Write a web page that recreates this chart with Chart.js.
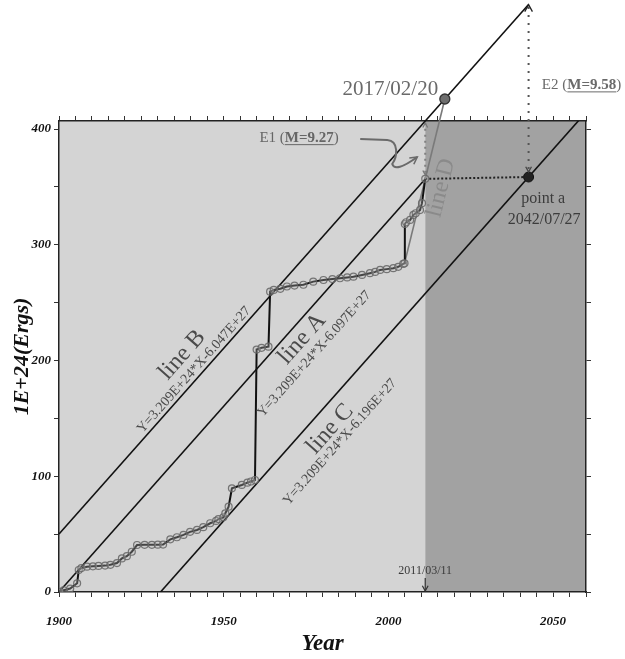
<!DOCTYPE html>
<html>
<head>
<meta charset="utf-8">
<script src="https://cdn.jsdelivr.net/npm/chart.js@4.4.0/dist/chart.umd.min.js"></script>
<style>
  html, body { margin: 0; padding: 0; background: #fff; }
</style>
</head>
<body>
<canvas id="myChart" width="625" height="659"></canvas>
<script>
// cumulative released energy, in units of 1E+24 ergs
var years = [1900.1, 1901.4, 1903.4, 1905.5, 1906.0, 1906.8, 1908.5, 1910.3, 1912.0, 1914.0, 1915.6, 1917.6, 1919.1, 1920.6, 1922.1, 1923.7, 1926.0, 1928.2, 1930.0, 1931.6, 1933.8, 1935.8, 1937.8, 1939.8, 1941.9, 1943.8, 1945.9, 1947.7, 1948.4, 1949.9, 1950.5, 1951.5, 1952.5, 1955.5, 1957.2, 1958.3, 1959.5, 1960.0, 1961.5, 1963.6, 1964.1, 1965.2, 1967.2, 1969.2, 1971.5, 1974.2, 1977.2, 1980.3, 1983.0, 1985.3, 1987.5, 1989.4, 1992.0, 1994.4, 1996.0, 1997.5, 1999.5, 2001.5, 2003.0, 2004.5, 2004.9, 2005.0, 2005.4, 2006.6, 2007.6, 2008.3, 2009.6, 2010.2, 2011.19];
var energy = [0, 1.5, 3, 7.5, 19, 20.7, 21.9, 22.2, 22.5, 22.8, 23.5, 25, 29, 31, 34.8, 40.6, 40.8, 40.8, 40.9, 41, 45.5, 47.3, 49.3, 52, 53.6, 56, 59.4, 61.4, 63, 64.5, 68, 73.7, 89.6, 92.5, 94.5, 95.5, 96.8, 209.5, 211, 212, 259.5, 261, 262, 264, 264.8, 265.5, 268.2, 269.6, 270.4, 271.1, 271.8, 272.5, 274, 275.5, 276.6, 278.3, 279, 279.8, 281, 283.5, 284, 318, 319.5, 321.5, 325.8, 327.3, 330, 336, 357];

var xTickLabels = [1900, 1950, 2000, 2050];
var yTickLabels = [0, 100, 200, 300, 400];

// Y = 3.209E+24*X - c, scaled to 1E+24
var slope = 3.209;
var interceptB = -6047;
var interceptA = -6097;
var interceptC = -6196;

var quakeYear = 2011.19;     // 2011/03/11
var forecastYear = 2017.14;  // 2017/02/20
var pointAYear = 2042.57;    // 2042/07/27
var lineDStartYear = 2004.9;
var lineDStartValue = 284;

function lineVal(c, yr) { return slope * yr + c; }

var serif = "'Liberation Serif', 'Times New Roman', serif";
var quakeValue = energy[energy.length - 1];
var lineCZero = -interceptC / slope;

var shading = {
    id: "shading",
    beforeDraw: function (chart) {
        var ctx = chart.ctx, a = chart.chartArea;
        var split = chart.scales.x.getPixelForValue(quakeYear);
        ctx.save();
        ctx.fillStyle = "#d4d4d4";
        ctx.fillRect(a.left, a.top, split - a.left, a.bottom - a.top);
        ctx.fillStyle = "#a2a2a2";
        ctx.fillRect(split, a.top, a.right - split, a.bottom - a.top);
        ctx.restore();
    }
};

function arrowHead(ctx, x, y, angle, size) {
    ctx.beginPath();
    ctx.moveTo(x - size * Math.cos(angle - 0.5), y - size * Math.sin(angle - 0.5));
    ctx.lineTo(x, y);
    ctx.lineTo(x - size * Math.cos(angle + 0.5), y - size * Math.sin(angle + 0.5));
    ctx.stroke();
}

function textAt(ctx, str, x, y, angle, font, color) {
    ctx.save();
    ctx.translate(x, y);
    ctx.rotate(angle);
    ctx.font = font;
    ctx.fillStyle = color;
    ctx.textAlign = "center";
    ctx.textBaseline = "middle";
    ctx.fillText(str, 0, 0);
    ctx.restore();
}

// "E1 (M=9.27)" style label, magnitude bold and underlined
function magLabel(ctx, head, mag, left, y, size, color) {
    ctx.save();
    ctx.fillStyle = color;
    ctx.strokeStyle = color;
    ctx.textBaseline = "middle";
    ctx.textAlign = "left";
    ctx.font = size + "px " + serif;
    ctx.fillText(head + " (", left, y);
    var x = left + ctx.measureText(head + " (").width;
    ctx.font = "bold " + size + "px " + serif;
    ctx.fillText(mag, x, y);
    var w = ctx.measureText(mag).width;
    ctx.lineWidth = 1;
    ctx.beginPath();
    ctx.moveTo(x, y + size * 0.45);
    ctx.lineTo(x + w, y + size * 0.45);
    ctx.stroke();
    ctx.font = size + "px " + serif;
    ctx.fillText(")", x + w, y);
    ctx.restore();
}

var notes = {
    id: "notes",
    afterDraw: function (chart) {
        var ctx = chart.ctx, xs = chart.scales.x, ys = chart.scales.y, a = chart.chartArea;
        var px = function (v) { return xs.getPixelForValue(v); };
        var py = function (v) { return ys.getPixelForValue(v); };
        var ang = Math.atan2(py(lineVal(0, 2000)) - py(lineVal(0, 1950)), px(2000) - px(1950));
        var tc = "#4a4a4a";

        textAt(ctx, "line B", px(1937.4), py(204.8), ang, "24px " + serif, tc);
        textAt(ctx, "Y=3.209E+24*X-6.047E+27", px(1941.0), py(191.9), ang, "14px " + serif, tc);
        textAt(ctx, "line A", px(1973.8), py(218.7), ang, "24px " + serif, tc);
        textAt(ctx, "Y=3.209E+24*X-6.097E+27", px(1977.5), py(205.7), ang, "14px " + serif, tc);
        textAt(ctx, "line C", px(1982.3), py(140.8), ang, "24px " + serif, tc);
        textAt(ctx, "Y=3.209E+24*X-6.196E+27", px(1985.3), py(129.6), ang, "14px " + serif, tc);

        var fy = lineVal(interceptB, forecastYear);
        var angD = Math.atan2(py(fy) - py(lineDStartValue), px(forecastYear) - px(lineDStartYear));
        textAt(ctx, "line D", px(2016.0), py(349.2), angD, "24px " + serif, "#8a8a8a");

        textAt(ctx, "2017/02/20", px(2000.6), py(433.9), 0, "21px " + serif, "#6a6a6a");
        textAt(ctx, "point a", px(2047.0), py(339.7), 0, "16px " + serif, "#3c3c3c");
        textAt(ctx, "2042/07/27", px(2047.3), py(321.5), 0, "16px " + serif, "#3c3c3c");
        magLabel(ctx, "E1", "M=9.27", px(1973.3) - 41, py(392.4), 15, "#666");
        magLabel(ctx, "E2", "M=9.58", px(2046.6), py(438), 15, "#6a6a6a");

        // forecast point sits above the plot area, so draw its marker here
        var fp = chart.getDatasetMeta(1).data[0];
        ctx.save();
        ctx.fillStyle = "#6e6e6e";
        ctx.strokeStyle = "#333";
        ctx.lineWidth = 1.3;
        ctx.beginPath();
        ctx.arc(fp.x, fp.y, 5, 0, Math.PI * 2);
        ctx.fill();
        ctx.stroke();
        ctx.restore();

        ctx.save();
        ctx.lineWidth = 1.3;
        // top of E2 / end of line B
        var ex = px(pointAYear), eTop = py(lineVal(interceptB, pointAYear));
        ctx.strokeStyle = "#222";
        arrowHead(ctx, ex, eTop, -Math.PI / 2, 8);
        ctx.strokeStyle = "#444";
        arrowHead(ctx, ex, py(lineVal(interceptC, pointAYear)) - 5, Math.PI / 2, 6);

        // E1 between the 2011 value and line B
        var qx = px(quakeYear);
        ctx.strokeStyle = "#777";
        arrowHead(ctx, qx, py(lineVal(interceptB, quakeYear)) + 2, -Math.PI / 2, 5);
        arrowHead(ctx, qx, py(quakeValue) - 4, Math.PI / 2, 5);

        // curved pointer from the E1 label
        ctx.strokeStyle = "#6a6a6a";
        ctx.lineWidth = 2;
        ctx.beginPath();
        ctx.moveTo(qx - 65, a.top + 18);
        ctx.lineTo(qx - 38, a.top + 19);
        ctx.bezierCurveTo(qx - 26, a.top + 20, qx - 28, a.top + 36, qx - 33, a.top + 43);
        ctx.quadraticCurveTo(qx - 30, a.top + 52, qx - 8, a.top + 36);
        ctx.stroke();
        ctx.lineWidth = 1.6;
        arrowHead(ctx, qx - 8, a.top + 36, Math.atan2(-16, 22), 8);

        // 2011/03/11 marker on the time axis
        textAt(ctx, "2011/03/11", qx, a.bottom - 21, 0, "12px " + serif, "#3a3a3a");
        ctx.strokeStyle = "#333";
        ctx.lineWidth = 1.2;
        ctx.beginPath();
        ctx.moveTo(qx, a.bottom - 14);
        ctx.lineTo(qx, a.bottom - 1);
        ctx.stroke();
        arrowHead(ctx, qx, a.bottom - 1, Math.PI / 2, 6);
        ctx.restore();
    }
};

var plain = { pointRadius: 0, pointHoverRadius: 0, tension: 0, fill: false };

var cumulative = years.map(function (y, i) { return { x: y, y: energy[i] }; });

var ctx = document.getElementById("myChart").getContext("2d");
var chart = new Chart(ctx, {
    type: "line",
    data: {
        datasets: [
            {
                data: cumulative,
                borderColor: "#111",
                borderWidth: 2,
                pointRadius: 3.5,
                pointBorderWidth: 1.2,
                pointBorderColor: "rgba(100,100,100,0.85)",
                pointBackgroundColor: "rgba(190,190,190,0.3)",
                tension: 0
            },
            {
                data: [{ x: forecastYear, y: lineVal(interceptB, forecastYear) }],
                showLine: false, pointRadius: 5, pointBackgroundColor: "#6e6e6e",
                pointBorderColor: "#333", pointBorderWidth: 1.2, clip: false
            },
            {
                data: [{ x: pointAYear, y: lineVal(interceptC, pointAYear) }],
                showLine: false, pointRadius: 5, pointBackgroundColor: "#222",
                pointBorderColor: "#111", clip: false
            },
            Object.assign({}, plain, {
                data: [{ x: lineDStartYear, y: lineDStartValue }, { x: forecastYear, y: lineVal(interceptB, forecastYear) }],
                borderColor: "#7a7a7a", borderWidth: 1.6, clip: false
            }),
            Object.assign({}, plain, {
                data: [{ x: 1900, y: lineVal(interceptB, 1900) }, { x: pointAYear, y: lineVal(interceptB, pointAYear) }],
                borderColor: "#111", borderWidth: 1.6, clip: false
            }),
            Object.assign({}, plain, {
                data: [{ x: 1900, y: lineVal(interceptA, 1900) }, { x: quakeYear, y: lineVal(interceptA, quakeYear) }],
                borderColor: "#111", borderWidth: 1.6
            }),
            Object.assign({}, plain, {
                data: [{ x: lineCZero, y: 0 }, { x: 2060, y: lineVal(interceptC, 2060) }],
                borderColor: "#111", borderWidth: 1.6
            }),
            Object.assign({}, plain, {
                data: [{ x: quakeYear, y: quakeValue }, { x: pointAYear, y: lineVal(interceptC, pointAYear) }],
                borderColor: "#222", borderWidth: 2, borderDash: [2, 2]
            }),
            Object.assign({}, plain, {
                data: [{ x: pointAYear, y: lineVal(interceptC, pointAYear) }, { x: pointAYear, y: lineVal(interceptB, pointAYear) }],
                borderColor: "#555", borderWidth: 2, borderDash: [2, 6], clip: false
            }),
            Object.assign({}, plain, {
                data: [{ x: quakeYear, y: quakeValue }, { x: quakeYear, y: lineVal(interceptB, quakeYear) }],
                borderColor: "#808080", borderWidth: 2, borderDash: [2, 4]
            })
        ]
    },
    options: {
        responsive: false,
        animation: false,
        layout: { padding: { top: 121, right: 39, left: 0, bottom: 0 } },
        plugins: { legend: { display: false }, tooltip: { enabled: false } },
        scales: {
            x: {
                type: "linear", position: "bottom", min: 1900, max: 2060,
                ticks: {
                    stepSize: 5, autoSkip: false, maxRotation: 0, padding: 17, color: "#111",
                    font: { family: serif, size: 13, style: "italic", weight: "bold" },
                    callback: function (v) { return xTickLabels.indexOf(v) >= 0 ? String(v) : ""; }
                },
                grid: { drawOnChartArea: false, tickLength: 5, tickColor: "#333" },
                border: { color: "#222", width: 1.5 },
                title: {
                    display: true, text: "Year", color: "#111",
                    font: { family: serif, size: 23, style: "italic", weight: "bold" },
                    padding: { top: 0, bottom: 1 }
                },
                afterFit: function (s) { s.height = 67; }
            },
            x2: {
                type: "linear", position: "top", min: 1900, max: 2060,
                ticks: { display: false, stepSize: 5 },
                grid: { drawOnChartArea: false, tickLength: 5, tickColor: "#333" },
                border: { color: "#222", width: 1.5 },
                afterFit: function (s) { s.height = 0; }
            },
            y: {
                type: "linear", position: "left", min: 0, max: 407,
                ticks: {
                    stepSize: 50, includeBounds: false, padding: 3, color: "#111",
                    font: { family: serif, size: 13, style: "italic", weight: "bold" },
                    callback: function (v) { return yTickLabels.indexOf(v) >= 0 ? String(v) : ""; }
                },
                grid: { drawOnChartArea: false, tickLength: 5, tickColor: "#333" },
                border: { color: "#222", width: 1.5 },
                title: {
                    display: true, text: "1E+24(Ergs)", color: "#111",
                    font: { family: serif, size: 22, style: "italic", weight: "bold" },
                    padding: { top: 9, bottom: 0 }
                },
                afterFit: function (s) { s.width = 59; }
            },
            y2: {
                type: "linear", position: "right", min: 0, max: 407,
                ticks: { display: false, stepSize: 50, includeBounds: false },
                grid: { drawOnChartArea: false, tickLength: 5, tickColor: "#333" },
                border: { color: "#222", width: 1.5 },
                afterFit: function (s) { s.width = 0; }
            }
        }
    },
    plugins: [shading, notes]
});
</script>
</body>
</html>
